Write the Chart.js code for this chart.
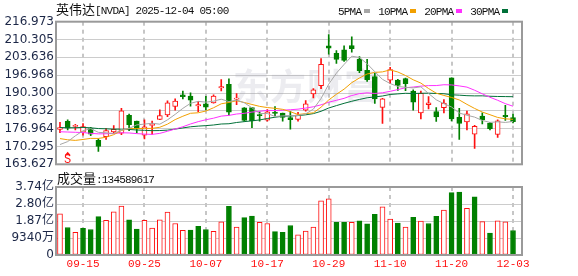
<!DOCTYPE html>
<html lang="zh">
<head>
<meta charset="utf-8">
<title>英伟达 NVDA 日K</title>
<script src="https://cdn.jsdelivr.net/npm/chart.js@4.4.1/dist/chart.umd.min.js"></script>
<style>
  html, body { margin: 0; padding: 0; background: #fff; }
  body { position: relative; width: 578px; height: 276px; overflow: hidden; }
  canvas { position: absolute; left: 0; }
  #chartPrice { top: 0; }
  #chartVolume { top: 170px; }
  .txt { position: absolute; white-space: nowrap; color: #111; line-height: 13px; z-index: 5; }
  .cjk { font-family: "Noto Sans CJK SC", sans-serif; font-size: 13px; }
  .mono { font-family: "Liberation Mono", monospace; font-size: 11px; letter-spacing: -0.8px; }
  .sq { display: inline-block; width: 6px; height: 4px; margin: 0 8px 1px 3px; vertical-align: middle; }
</style>
</head>
<body>
<div class="txt" id="title" style="left:56px;top:2px"><span class="cjk">英伟达</span><span class="mono">[NVDA] 2025-12-04 05:00</span></div>
<div class="txt" id="legend" style="left:338px;top:3px"></div>
<div class="txt" id="volTitle" style="left:57px;top:171px"><span class="cjk">成交量</span><span class="mono" id="volValue"></span></div>
<canvas id="chartPrice" width="578" height="180"></canvas>
<canvas id="chartVolume" width="578" height="106"></canvas>
<script>
// datos diarios 09-10 .. 12-03
const dates = ['09-10','09-11','09-12','09-15','09-16','09-17','09-18','09-19','09-22','09-23',
  '09-24','09-25','09-26','09-29','09-30','10-01','10-02','10-03','10-06','10-07',
  '10-08','10-09','10-10','10-13','10-14','10-15','10-16','10-17','10-20','10-21',
  '10-22','10-23','10-24','10-27','10-28','10-29','10-30','10-31','11-03','11-04',
  '11-05','11-06','11-07','11-10','11-11','11-12','11-13','11-14','11-17','11-18',
  '11-19','11-20','11-21','11-24','11-25','11-26','11-28','12-01','12-02','12-03'];

const opens = [176.64,179.68,177.77,175.67,177.00,172.64,173.98,175.77,175.30,181.97,
  179.77,174.48,178.17,180.43,182.08,185.24,189.60,189.19,185.50,186.23,
  186.57,192.23,193.51,187.97,184.77,184.80,182.23,180.18,183.13,182.79,
  181.14,180.42,183.84,189.99,193.05,207.98,205.15,206.45,208.08,203.00,
  198.77,196.42,184.90,195.11,195.16,195.72,191.05,182.86,185.97,183.38,
  184.79,195.95,181.24,179.49,174.91,181.63,179.01,174.76,181.76,181.08];
const highs = [179.29,180.28,178.60,178.85,177.50,173.20,177.10,178.08,184.55,182.42,
  179.78,180.26,179.77,184.00,187.35,188.14,191.05,190.36,187.23,189.06,
  189.60,195.30,195.62,190.11,184.80,184.87,183.28,184.10,185.20,182.79,
  183.44,183.03,187.47,192.00,203.15,212.19,206.16,207.97,211.34,203.97,
  202.92,197.62,188.32,199.94,195.42,195.89,191.44,191.01,189.00,184.80,
  187.86,196.00,184.56,183.50,178.16,182.91,179.29,180.30,185.66,182.45];
const lows = [175.47,176.48,176.45,174.51,174.38,168.41,172.96,175.18,174.71,176.21,
  175.40,173.13,174.93,180.32,181.48,183.90,188.06,185.38,183.33,184.00,
  186.54,191.06,182.05,185.96,179.70,177.29,179.77,179.75,181.73,179.80,
  176.76,179.79,183.50,188.43,191.91,204.78,201.41,202.07,205.56,197.93,
  194.65,186.38,178.91,193.79,191.30,191.13,183.85,180.58,184.32,179.65,
  182.83,179.85,172.93,176.48,169.55,178.71,176.50,173.68,180.00,179.11];
const closes = [177.33,177.17,177.82,177.75,174.88,170.29,176.24,176.67,183.61,178.43,
  176.97,177.69,178.19,181.85,186.58,187.24,188.89,187.62,185.54,185.04,
  189.11,192.57,183.16,188.32,180.03,179.83,181.81,183.22,182.64,181.16,
  180.28,182.16,186.26,191.49,201.03,207.04,202.89,202.49,206.88,198.69,
  195.21,188.08,188.15,199.05,193.16,193.80,186.86,190.17,186.60,181.36,
  186.52,180.64,178.88,182.55,177.82,180.26,177.00,179.92,181.46,179.59];
const prevClose = 170.76; // cierre del día anterior al primero

// medias móviles
const ma5 = [171.02,172.12,174.28,176.17,176.99,175.58,175.40,175.17,176.34,177.05,
  178.38,178.67,178.98,178.63,180.26,182.31,184.55,186.44,187.17,186.87,
  187.24,187.98,187.08,187.64,186.64,184.78,182.63,182.64,181.51,181.73,
  181.82,181.89,182.50,184.27,188.24,193.60,197.74,200.99,204.07,203.60,
  201.23,198.27,195.40,193.84,192.73,192.45,192.20,192.61,190.12,187.76,
  186.30,185.06,182.80,181.99,181.28,180.03,179.30,179.51,179.29,179.65];
const ma10 = [173.24,172.80,172.57,172.92,173.33,173.30,173.76,174.72,176.25,177.02,
  176.98,177.04,177.07,177.48,178.65,180.35,181.61,182.71,182.90,183.56,
  184.78,186.26,186.76,187.41,186.75,186.01,185.30,184.86,184.57,184.19,
  183.30,182.26,182.57,182.89,184.99,187.71,189.82,191.74,194.17,195.92,
  197.41,198.01,198.20,198.95,198.16,196.84,195.24,194.01,191.98,190.24,
  189.38,188.63,187.70,186.05,184.52,183.17,182.18,181.16,180.64,180.46];
const ma20 = [175.80,175.70,175.60,175.50,175.20,175.01,175.06,175.14,175.42,175.35,
  175.11,174.92,174.82,175.20,175.99,176.82,177.68,178.71,179.58,180.29,
  180.88,181.65,181.92,182.44,182.70,183.18,183.46,183.79,183.74,183.87,
  184.04,184.26,184.67,185.15,185.87,186.86,187.56,188.30,189.37,190.05,
  190.36,190.13,190.38,190.92,191.58,192.27,192.53,192.87,193.07,193.08,
  193.39,193.32,192.95,192.50,191.34,190.00,188.71,187.58,186.31,185.35];
const ma30 = [177.38,177.31,177.31,177.44,177.27,177.00,176.90,176.76,176.79,176.67,
  176.46,176.33,176.21,176.25,176.41,176.79,177.24,177.66,177.91,178.09,
  178.33,178.70,178.80,179.27,179.58,179.89,180.22,180.76,181.24,181.59,
  181.69,181.85,182.13,182.59,183.46,184.69,185.58,186.44,187.21,187.89,
  188.50,188.84,189.18,189.75,189.97,190.19,190.12,190.20,190.24,190.12,
  190.03,189.63,189.49,189.30,189.22,189.24,189.08,189.00,188.96,188.91];

// volumen en millones de acciones
const volumes = [226,151,124,147,140,211,191,237,269,193,
  143,191,148,193,236,173,136,137,157,140,
  130,182,268,153,205,214,179,173,128,124,
  162,111,131,153,298,308,179,179,180,188,
  171,223,264,198,176,154,207,186,173,213,
  247,343,346,256,320,183,121,188,182,134.589617];
const lastVolume = '134589617';

const priceTicks = [163.627,170.295,176.964,183.632,190.300,196.968,203.636,210.305,216.973];
const priceTickLabels = ['163.627','170.295','176.964','183.632','190.300','196.968','203.636','210.305','216.973'];
const volTicks = [0, 93.4, 186.8, 280.2, 373.6];
const volTickLabels = ['0','9340万','1.87亿','2.80亿','3.74亿'];
const tickIdx = [3, 11, 19, 27, 35, 43, 51, 59];

const maNames = ['5PMA', '10PMA', '20PMA', '30PMA'];
const maColors = ['#a6a6a6', '#f2a000', '#ff30ff', '#007038'];
const signals = [{ index: 1, text: 'S' }];
const watermark = '东方财富';

const RED = '#ff1010', GREEN = '#008000';
const X_MIN = -0.52, X_MAX = 60.17;
const axisFont = { family: '"DejaVu Sans", "Noto Sans CJK SC", sans-serif', size: 12 };
const axisColor = '#1c2747';

// leyenda y textos de cabecera
document.getElementById('legend').innerHTML = maNames.map((n, i) =>
  `<span class="mono">${n}</span><span class="sq" style="background:${maColors[i]}"></span>`).join('');
document.getElementById('volValue').textContent = ':' + lastVolume;

const candleUp = closes.map((c, i) => c >= opens[i]);
const volUp = closes.map((c, i) => c >= (i === 0 ? prevClose : closes[i - 1]));

function xy(arr) { return arr.map((v, i) => ({ x: i, y: v })); }

function xScale(showLabels) {
  return {
    type: 'linear', min: X_MIN, max: X_MAX, offset: false,
    afterBuildTicks: s => { s.ticks = tickIdx.map(v => ({ value: v })); },
    grid: { display: false, offset: false, drawTicks: false },
    border: { display: false },
    ticks: showLabels
      ? { autoSkip: false, maxRotation: 0, padding: 2, color: RED,
          font: { family: '"Liberation Mono", monospace', size: 11 }, callback: v => dates[v] }
      : { display: false },
    afterFit: s => { s.height = showLabels ? 21 : 0; }
  };
}

function yScale(min, max, ticks, labels) {
  return {
    min: min, max: max,
    afterBuildTicks: s => { s.ticks = ticks.map(v => ({ value: v })); },
    ticks: { autoSkip: false, padding: 2, color: axisColor, font: axisFont, callback: (v, i) => labels[i] },
    grid: { color: '#cccccc', drawTicks: false },
    border: { display: false },
    afterFit: s => { s.width = 56; }
  };
}

// líneas verticales punteadas en las fechas marcadas
const dashGridPlugin = {
  id: 'dashGrid',
  beforeDatasetsDraw(chart) {
    const { ctx, chartArea: a, scales } = chart;
    ctx.save();
    ctx.strokeStyle = '#c6c6c6';
    ctx.lineWidth = 2;
    ctx.setLineDash([4, 4]);
    tickIdx.forEach(v => {
      const x = Math.round(scales.x.getPixelForValue(v));
      ctx.beginPath();
      ctx.moveTo(x, a.top);
      ctx.lineTo(x, a.bottom);
      ctx.stroke();
    });
    ctx.restore();
  }
};

// marco gris alrededor del área
const framePlugin = {
  id: 'frame',
  afterDraw(chart) {
    const { ctx, chartArea: a } = chart;
    ctx.save();
    ctx.strokeStyle = '#9a9a9a';
    ctx.lineWidth = 2;
    ctx.strokeRect(a.left, a.top, a.right - a.left, a.bottom - a.top);
    ctx.restore();
  }
};

// marca de agua tenue
const watermarkPlugin = {
  id: 'watermark',
  beforeDatasetsDraw(chart) {
    const { ctx, chartArea: a } = chart;
    ctx.save();
    ctx.font = 'bold 36px "Noto Sans CJK SC"';
    ctx.fillStyle = 'rgba(150,150,170,0.18)';
    ctx.textBaseline = 'middle';
    watermark.split('').forEach((c, k) => ctx.fillText(c, a.left + 177 + k * 37, a.top + 65));
    ctx.restore();
  }
};

// señal "S" con flecha
const signalPlugin = {
  id: 'signals',
  afterDatasetsDraw(chart) {
    const { ctx, chartArea: a, scales } = chart;
    ctx.save();
    ctx.fillStyle = RED;
    signals.forEach(s => {
      const x = scales.x.getPixelForValue(s.index);
      const yb = a.bottom;
      ctx.beginPath();
      ctx.moveTo(x, yb - 12.5);
      ctx.lineTo(x - 3, yb - 9);
      ctx.lineTo(x + 3, yb - 9);
      ctx.closePath();
      ctx.fill();
      ctx.font = '12px "Liberation Mono", monospace';
      ctx.textAlign = 'center';
      ctx.textBaseline = 'bottom';
      ctx.fillText(s.text, x, yb + 1.5);
    });
    ctx.restore();
  }
};

const maSets = [ma5, ma10, ma20, ma30].map((arr, i) => ({
  type: 'line', label: maNames[i], data: xy(arr),
  borderColor: maColors[i], borderWidth: 1, pointRadius: 0, tension: 0, order: 0
}));

new Chart(document.getElementById('chartPrice'), {
  type: 'bar',
  data: {
    datasets: [
      ...maSets,
      {
        label: 'body', order: 1, grouped: false,
        data: opens.map((o, i) => ({ x: i, y: [o, closes[i]] })),
        backgroundColor: candleUp.map(u => u ? '#ffffff' : GREEN),
        borderColor: candleUp.map(u => u ? RED : GREEN),
        borderWidth: 1, borderSkipped: false, barThickness: 5, minBarLength: 1.2
      },
      {
        label: 'wick', order: 2, grouped: false,
        data: lows.map((l, i) => ({ x: i, y: [l, highs[i]] })),
        backgroundColor: candleUp.map(u => u ? RED : GREEN),
        borderWidth: 0, barThickness: 1
      }
    ]
  },
  options: {
    responsive: false, animation: false,
    layout: { padding: { top: 21.7, right: 56, bottom: 15.7, left: 0 } },
    plugins: { legend: { display: false }, tooltip: { enabled: false } },
    scales: {
      x: xScale(false),
      y: yScale(163.627, 216.973, priceTicks, priceTickLabels)
    }
  },
  plugins: [dashGridPlugin, framePlugin, watermarkPlugin, signalPlugin]
});

new Chart(document.getElementById('chartVolume'), {
  type: 'bar',
  data: {
    datasets: [{
      label: 'volumen', grouped: false,
      data: xy(volumes),
      backgroundColor: volUp.map(u => u ? '#ffffff' : GREEN),
      borderColor: volUp.map(u => u ? RED : GREEN),
      borderWidth: 1, borderSkipped: false, barThickness: 5
    }]
  },
  options: {
    responsive: false, animation: false,
    layout: { padding: { top: 17, right: 56, bottom: 0, left: 0 } },
    plugins: { legend: { display: false }, tooltip: { enabled: false } },
    scales: {
      x: xScale(true),
      y: yScale(0, 373.6, volTicks, volTickLabels)
    }
  },
  plugins: [dashGridPlugin, framePlugin]
});
</script>
</body>
</html>
